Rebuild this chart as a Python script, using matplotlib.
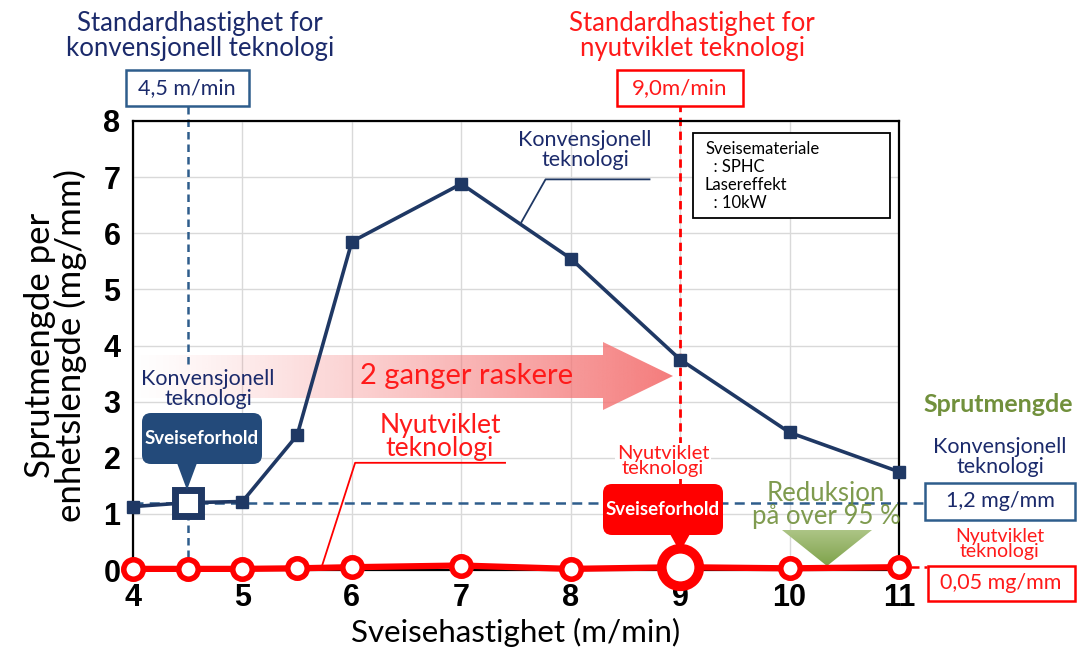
import matplotlib
matplotlib.use("Agg")
import matplotlib.pyplot as plt
import matplotlib.transforms as mtransforms
from matplotlib.colors import to_rgb
from matplotlib.patches import FancyBboxPatch, Polygon, Rectangle
import numpy as np

# welding speed (m/min) and spatter per unit length (mg/mm)
speed = [4, 4.5, 5, 5.5, 6, 7, 8, 9, 10, 11]
spatter_conv = [1.13, 1.2, 1.22, 2.4, 5.85, 6.88, 5.55, 3.75, 2.45, 1.75]
spatter_new = [0.02, 0.02, 0.02, 0.03, 0.05, 0.08, 0.02, 0.05, 0.03, 0.05]

std_speed_conv = 4.5
std_speed_new = 9.0
level_conv = 1.2
level_new = 0.05

xticks = [4, 5, 6, 7, 8, 9, 10, 11]
yticks = list(range(0, 9))

NAVY = "#1f3864"
NAVY_TXT = "#1b2a6b"
STEEL = "#2e5d8c"
BUBBLE = "#234a7a"
RED = "#ff0000"
RED_TXT = "#ff1a1a"
OLIVE = "#71903c"
FONT = "Lato"

W, H = 1083, 657
fig = plt.figure(figsize=(W / 100, H / 100), dpi=100)
ax = fig.add_axes([133 / W, 1 - 570 / H, (899 - 133) / W, (570 - 121) / H])

# layout helper: pixel coordinates measured from the top-left corner
px = mtransforms.Affine2D().scale(1 / W, -1 / H).translate(0, 1) + fig.transFigure

ax.set_xlim(4, 11)
ax.set_ylim(0, 8)
ax.set_xticks(xticks)
ax.set_yticks(yticks)
ax.grid(True, color="#d9d9d9", lw=1.0, zorder=0)
ax.set_axisbelow(True)
for s in ax.spines.values():
    s.set_color("black")
    s.set_linewidth(1.6)
ax.tick_params(length=0, labelsize=22)
ax.tick_params(axis="y", pad=9)
ax.tick_params(axis="x", pad=9)
for lab in ax.get_xticklabels() + ax.get_yticklabels():
    lab.set_fontfamily("Liberation Sans")
    lab.set_fontweight("bold")

ax.set_xlabel("Sveisehastighet (m/min)", fontsize=22.5, family=FONT, labelpad=4)
ax.set_ylabel("Sprutmengde per\nenhetslengde (mg/mm)", fontsize=25, family=FONT,
              labelpad=12, linespacing=0.92)

# "2x faster" gradient arrow
arrow = Polygon([(130, 355), (603, 355), (603, 342), (673, 376), (603, 410),
                 (603, 398), (130, 398)], closed=True, transform=px,
                facecolor="none", edgecolor="none")
ax.add_patch(arrow)
grad = np.zeros((2, 256, 4))
grad[..., :3] = to_rgb("#f47474")
grad[..., 3] = np.linspace(0.0, 0.95, 256) ** 1.2
im = ax.imshow(grad, extent=(130, 673, 410, 342), transform=px, aspect="auto",
               zorder=1, interpolation="bilinear")
im.set_clip_path(arrow)
fig.text(467, 376, "2 ganger raskere", transform=px, ha="center", va="center",
         fontsize=21, color=RED_TXT, family=FONT, zorder=5)

# reference lines for the standard speeds and spatter levels
ax.plot([std_speed_conv, std_speed_conv], [3.67, 8.3], ls=(0, (3, 2)), color=STEEL,
        lw=1.8, clip_on=False, zorder=2)
ax.plot([std_speed_conv, std_speed_conv], [0, level_conv], ls=(0, (3, 2)),
        color=STEEL, lw=1.8, clip_on=False, zorder=2)
ax.plot([std_speed_new, std_speed_new], [0, 8.3], ls=(0, (3, 2)), color=RED,
        lw=2.0, clip_on=False, zorder=2)
ax.plot([4, 11.24], [level_conv, level_conv], ls=(0, (4, 2.5)), color=STEEL,
        lw=1.8, clip_on=False, zorder=2)
ax.plot([11, 11.26], [level_new, level_new], ls=(0, (3, 2)), color=RED,
        lw=1.8, clip_on=False, zorder=2)

# data series
ax.plot(speed, spatter_conv, color=NAVY, lw=2.6, marker="s", ms=8,
        mfc=NAVY, mec=NAVY, clip_on=False, zorder=4)
ax.plot(speed, spatter_new, color=RED, lw=4.5, marker="o", ms=14, mfc="white",
        mec=RED, mew=4, clip_on=False, zorder=4)

# highlighted operating points
i_conv = speed.index(std_speed_conv)
ax.plot(std_speed_conv, spatter_conv[i_conv], marker="s", ms=19, mfc="white",
        mec=NAVY, mew=5, clip_on=False, zorder=6)
i_new = speed.index(std_speed_new)
ax.plot(std_speed_new, spatter_new[i_new], marker="o", ms=27, mfc="white",
        mec=RED, mew=7, clip_on=False, zorder=6)

# leader lines for the series labels
ax.plot([8.72, 7.77, 7.55], [6.96, 6.96, 6.2], color=NAVY, lw=1.3, zorder=3)
ax.plot([7.40, 6.03, 5.73], [1.91, 1.91, 0.09], color=RED, lw=1.3, zorder=3)


def label_box(cx, cy, w, h, text, edge, color, size):
    fig.patches.append(Rectangle((cx - w / 2, cy - h / 2), w, h, transform=px,
                                 facecolor="white", edgecolor=edge, lw=1.8,
                                 zorder=5))
    fig.text(cx, cy, text, transform=px, ha="center", va="center",
             fontsize=size, color=color, family=FONT, zorder=6)


def bubble(x0, y0, x1, y1, tip, text, fill):
    box = FancyBboxPatch((x0, y0), x1 - x0, y1 - y0,
                         boxstyle="round,pad=0,rounding_size=9", transform=px,
                         facecolor=fill, edgecolor="none", zorder=7)
    fig.patches.append(box)
    tx, ty = tip
    fig.patches.append(Polygon([(tx - 10, y1 - 1), (tx + 10, y1 - 1), (tx, ty)],
                               transform=px, facecolor=fill, edgecolor="none",
                               zorder=7))
    fig.text((x0 + x1) / 2, (y0 + y1) / 2, text, transform=px, ha="center",
             va="center", fontsize=13.5, color="white", family=FONT,
             fontweight="bold", zorder=8)


blank = dict(facecolor="white", edgecolor="none", pad=1)

# headers above the plot
fig.text(200, 36, "Standardhastighet for\nkonvensjonell teknologi", transform=px,
         ha="center", va="center", fontsize=18.5, color=NAVY_TXT, family=FONT,
         linespacing=0.98)
fig.text(692, 36, "Standardhastighet for\nnyutviklet teknologi", transform=px,
         ha="center", va="center", fontsize=18.5, color=RED_TXT, family=FONT,
         linespacing=0.98)
label_box(187, 88, 123, 36, "4,5 m/min", STEEL, NAVY_TXT, 15.5)
label_box(680, 88, 126, 36, "9,0m/min", RED, RED_TXT, 16)

# test conditions
fig.patches.append(Rectangle((693, 133), 197, 85, transform=px, facecolor="white",
                             edgecolor="black", lw=1.3, zorder=5))
fig.text(705, 176, "Sveisemateriale\n  : SPHC\nLasereffekt\n  : 10kW", transform=px,
         ha="left", va="center", fontsize=12, color="black", family=FONT,
         linespacing=1.15, zorder=6)

# series labels inside the plot
fig.text(585, 150, "Konvensjonell\nteknologi", transform=px, ha="center",
         va="center", fontsize=15.5, color=NAVY_TXT, family=FONT, linespacing=1.0)
fig.text(208, 389, "Konvensjonell\nteknologi", transform=px, ha="center",
         va="center", fontsize=15.5, color=NAVY_TXT, family=FONT, linespacing=0.95,
         zorder=3)
fig.text(440, 437, "Nyutviklet\nteknologi", transform=px, ha="center",
         va="center", fontsize=19, color=RED_TXT, family=FONT, linespacing=0.9)
fig.text(663, 461, "Nyutviklet\nteknologi", transform=px, ha="center",
         va="center", fontsize=14.5, color=RED_TXT, family=FONT, linespacing=0.9,
         bbox=blank, zorder=3)

bubble(142, 413, 262, 464, (187, 490), "Sveiseforhold", BUBBLE)
bubble(603, 484, 723, 535, (680, 552), "Sveiseforhold", RED)

# reduction arrow
tri = Polygon([(782, 530), (872, 530), (827, 566)], closed=True, transform=px,
              facecolor="none", edgecolor="none")
ax.add_patch(tri)
g2 = np.zeros((256, 2, 4))
g2[..., :3] = np.linspace(to_rgb("#d4e2b8"), to_rgb("#7ea24a"), 256)[:, None, :]
g2[..., 3] = 1.0
im2 = ax.imshow(g2, extent=(782, 872, 566, 500), transform=px, aspect="auto",
                zorder=3, interpolation="bilinear")
im2.set_clip_path(tri)
fig.text(826, 505, "Reduksjon\npå over 95 %", transform=px, ha="center",
         va="center", fontsize=18.5, color=OLIVE, family=FONT, alpha=0.9,
         linespacing=0.92, zorder=6)

# right-hand summary
fig.text(998, 404, "Sprutmengde", transform=px, ha="center", va="center",
         fontsize=18, color=OLIVE, family=FONT, fontweight="bold")
fig.text(1000, 457, "Konvensjonell\nteknologi", transform=px, ha="center",
         va="center", fontsize=15.5, color=NAVY_TXT, family=FONT, linespacing=0.95)
label_box(1000, 501, 150, 37, "1,2 mg/mm", STEEL, NAVY_TXT, 15.5)
fig.text(1000, 544, "Nyutviklet\nteknologi", transform=px, ha="center",
         va="center", fontsize=14, color=RED_TXT, family=FONT, linespacing=0.9)
label_box(1001, 583, 147, 35, "0,05 mg/mm", RED, RED_TXT, 15.5)

ax.set_xlim(4, 11)
ax.set_ylim(0, 8)

fig.savefig("out.png", dpi=100)
